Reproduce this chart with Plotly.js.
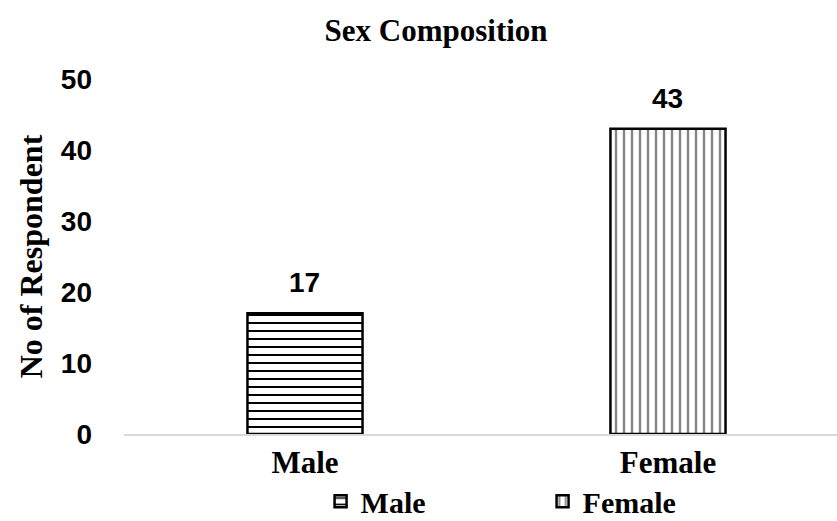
<!DOCTYPE html>
<html>
<head>
<meta charset="utf-8">
<script src="https://cdn.plot.ly/plotly-3.0.1.min.js"></script>
<style>html,body{margin:0;padding:0;background:#fff;}#chart{width:837px;height:521px;}</style>
</head>
<body>
<div id="chart"></div>
<script>
const categories = ["Male", "Female"];
const values = [17, 43];
const yTickValues = [0, 10, 20, 30, 40, 50];
const chartTitle = "Sex Composition";
const yTitle = "No of Respondent";

const patterns = [
  {shape: "-", fgcolor: "#000", bgcolor: "#fff", size: 8, solidity: 0.25},
  {shape: "|", fgcolor: "#222", bgcolor: "#fff", size: 8, solidity: 0.3, fgopacity: 0.55}
];

const traces = categories.map((c, i) => ({
  type: "bar",
  name: c,
  x: [c],
  y: [values[i]],
  width: [0.317],
  marker: {color: "#fff", pattern: patterns[i], line: {color: "#000", width: 2.5}},
  hoverinfo: "none"
}));

const serif = "Liberation Serif, Times New Roman, serif";
const sans = "Liberation Sans, Arial, sans-serif";

const annotations = categories.map((c, i) => ({
  x: c, y: values[i], xref: "x", yref: "y",
  text: String(values[i]), showarrow: false,
  yanchor: "bottom", yshift: 13,
  font: {family: sans, size: 28, weight: "bold", color: "#000"}
}));

const layout = {
  width: 837, height: 521,
  margin: {l: 124, r: 0, t: 79, b: 86.5, pad: 0, autoexpand: false},
  paper_bgcolor: "#fff", plot_bgcolor: "#fff",
  barmode: "overlay",
  title: {text: chartTitle, x: 0.521, xref: "container", y: 0.942, yref: "container", yanchor: "middle",
          font: {family: serif, size: 31, weight: "bold", color: "#000"}},
  xaxis: {type: "category", range: [-0.4986, 1.4656], showline: true, linecolor: "#d9d9d9", linewidth: 2,
          showgrid: false, zeroline: false, ticks: "", automargin: false,
          tickfont: {family: serif, size: 31, weight: "bold", color: "#000"}},
  yaxis: {range: [0, 50], tickvals: yTickValues, showgrid: false, zeroline: false, showline: false,
          ticks: "", ticklabelstandoff: 31, automargin: false,
          tickfont: {family: sans, size: 28, weight: "bold", color: "#000"},
          title: {text: yTitle, standoff: 8, font: {family: serif, size: 32, weight: "bold", color: "#000"}}},
  legend: {orientation: "h", xref: "container", yref: "container", x: 0.383, xanchor: "left", y: 0.038, yanchor: "middle",
           font: {family: serif, size: 30, weight: "bold", color: "#000"}, entrywidth: 177, entrywidthmode: "pixels"},
  annotations: annotations,
  showlegend: true
};

Plotly.newPlot("chart", traces, layout, {displayModeBar: false, staticPlot: true});
</script>
</body>
</html>
